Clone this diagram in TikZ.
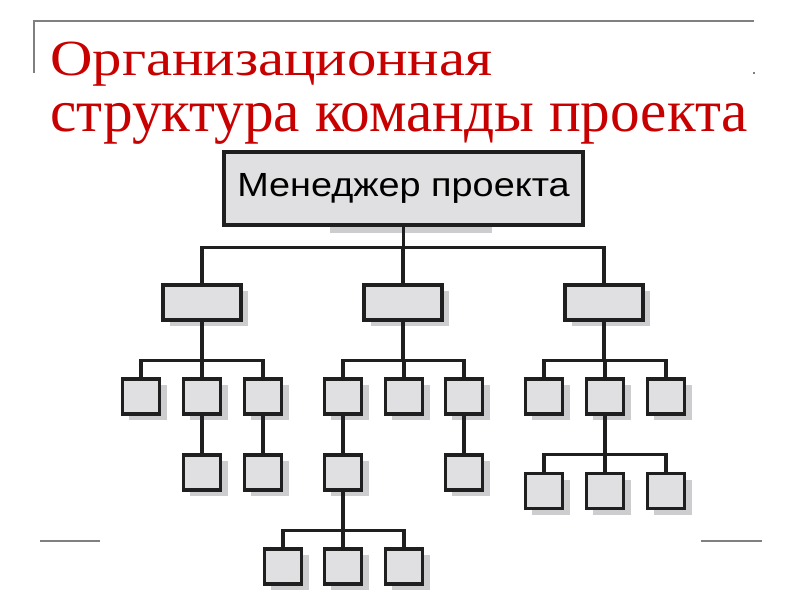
\documentclass[tikz,border=0pt]{standalone}
\usepackage{fontspec}
\setmainfont{Liberation Serif}
\newfontfamily\boxfont{Liberation Sans}
\usetikzlibrary{shadows}
\definecolor{titlered}{RGB}{200,0,0}
\definecolor{boxgray}{RGB}{224,224,226}
\definecolor{shadegray}{RGB}{205,205,207}
\definecolor{framegray}{RGB}{128,128,128}
\begin{document}
\begin{tikzpicture}[x=0.025cm,y=-0.025cm,
  box/.style={draw=black!88,line width=2.6pt,fill=boxgray,inner sep=0pt,
    drop shadow={shadow xshift=5pt,shadow yshift=-4.5pt,fill=shadegray,opacity=1}},
  unit/.style={box,minimum width=0.93cm,minimum height=0.88cm},
  groupbox/.style={box,minimum width=1.955cm,minimum height=0.88cm},
  topbox/.style={draw=black!88,line width=2.6pt,fill=boxgray,inner sep=0pt,
    minimum width=8.98cm,minimum height=1.83cm,font=\boxfont\fontsize{23.8}{24}\selectfont},
  link/.style={draw=black!88,line width=2.2pt},
  heading/.style={anchor=base west,inner sep=0pt,text=titlered,font=\fontsize{36}{36}\selectfont}]
\useasboundingbox (0,0) rectangle (800,600);
% frame
\draw[framegray,line width=1.5pt] (34,73) -- (34,21) -- (754,21);
\fill[framegray] (753,72) rectangle (755,74);
\draw[framegray,line width=1.5pt] (40,541) -- (100,541);
\draw[framegray,line width=1.5pt] (701,541) -- (762,541);
% title
\node[heading] (t1) at (50,75) {\scalebox{1.16}[1]{Организационная}};
\node[heading] (t2) at (50,131) {\scalebox{1.17}[1.18]{структура команды проекта}};
% boxes
\fill[shadegray] (330,226) rectangle (492,233);
\node[topbox] (pm) at (403.5,188.5) {\scalebox{1.13}[1]{Менеджер проекта}};
\node[groupbox] (g1) at (202,302.5) {};
\node[groupbox] (g2) at (403,302.5) {};
\node[groupbox] (g3) at (604,302.5) {};
\foreach \n/\x in {a1/141,a2/202,a3/263,b1/343,b2/404,b3/464,c1/544,c2/605,c3/666}
  \node[unit] (\n) at (\x,396.5) {};
\node[unit] (a21) at (202,472.5) {};
\node[unit] (a31) at (263,472.5) {};
\node[unit] (b11) at (343,472.5) {};
\node[unit] (b31) at (464,472.5) {};
\foreach \n/\x in {c21/544,c22/605,c23/666}
  \node[unit] (\n) at (\x,491) {};
\foreach \n/\x in {b111/283,b112/343,b113/404}
  \node[unit] (\n) at (\x,566.5) {};
% links
\foreach \c in {g1,g2,g3}
  \draw[link] (pm.south) -- ++(0,20.7) -| (\c.north);
\foreach \p/\c in {g1/a1,g1/a2,g1/a3,g2/b1,g2/b2,g2/b3,g3/c1,g3/c2,g3/c3,
    c2/c21,c2/c22,c2/c23,b11/b111,b11/b112,b11/b113}
  \draw[link] (\p.south) -- ++(0,38.7) -| (\c.north);
\draw[link] (a2) -- (a21);
\draw[link] (a3) -- (a31);
\draw[link] (b1) -- (b11);
\draw[link] (b3) -- (b31);
\end{tikzpicture}
\end{document}
